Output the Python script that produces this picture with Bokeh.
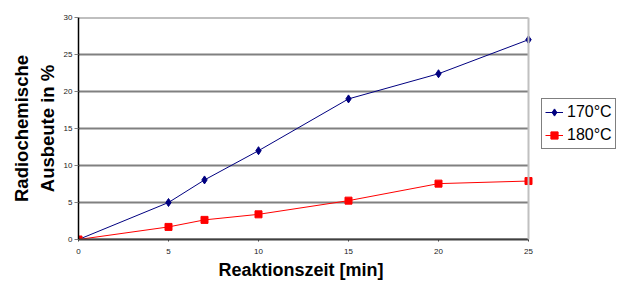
from bokeh.plotting import figure
from bokeh.models import Range1d, FixedTicker, Legend, LegendItem, Span, Title
from bokeh.embed import file_html
from bokeh.resources import INLINE

time_min = [0, 5, 7, 10, 15, 20, 25]
yield_170 = [0, 5.0, 8.05, 12.0, 19.0, 22.4, 27.0]
yield_180 = [0, 1.7, 2.65, 3.4, 5.25, 7.55, 7.9]
series_names = ["170°C", "180°C"]
series_colors = ["#000080", "#ff0000"]
series_markers = ["diamond", "square"]
marker_sizes = [8, 7]
x_ticks = [0, 5, 10, 15, 20, 25]
y_ticks = [0, 5, 10, 15, 20, 25, 30]
x_title = "Reaktionszeit [min]"
y_title = "Radiochemische\nAusbeute in %"

x_lo, x_hi = x_ticks[0], x_ticks[-1]
# frame extends to the right edge so the legend fits inside it; data/axis stay within 0..25
p = figure(width=619, height=283, output_backend="svg", toolbar_location=None,
           x_range=Range1d(x_lo, x_hi * 541 / 450), y_range=Range1d(y_ticks[0], y_ticks[-1]),
           min_border_left=78, min_border_top=17, min_border_right=0, min_border_bottom=44)
p.outline_line_color = None
p.background_fill_color = "white"
p.border_fill_color = "white"
p.grid.grid_line_color = None

# horizontal gridlines limited to the data area
p.segment(x0=[x_lo] * len(y_ticks), x1=[x_hi] * len(y_ticks), y0=y_ticks, y1=y_ticks,
          line_color="#808080", line_width=2, level="underlay")

p.xaxis.ticker = FixedTicker(ticks=x_ticks)
p.yaxis.ticker = FixedTicker(ticks=y_ticks)
p.xaxis.bounds = (x_lo, x_hi)

for ax in (p.xaxis, p.yaxis):
    ax.major_label_text_font = "Liberation Sans"
    ax.major_label_text_font_size = "8px"
    ax.major_label_text_color = "#222222"
    ax.minor_tick_line_color = None
    ax.major_tick_in = 0
    ax.axis_label_text_font = "Liberation Sans"
    ax.axis_label_text_font_style = "bold"
    ax.axis_label_text_color = "black"

p.xaxis.axis_line_color = "#404040"
p.xaxis.axis_line_width = 2
p.xaxis.major_tick_out = 2
p.xaxis.major_tick_line_color = "#404040"
p.xaxis.major_label_standoff = 7

p.yaxis.axis_label = y_title
p.yaxis.axis_label_text_font_size = "18.5px"
p.yaxis.axis_line_color = "black"
p.yaxis.axis_line_width = 1.5
p.yaxis.major_tick_out = 4
p.yaxis.major_tick_line_color = "#808080"
p.yaxis.major_label_standoff = 2
p.yaxis.axis_label_standoff = 3

# x-axis title centred under the data area (not under the legend area)
p.add_layout(Title(text=x_title, align="left", offset=140, standoff=3,
                   text_font="Liberation Sans", text_font_size="18px",
                   text_font_style="bold", text_color="black"), "below")

p.add_layout(Span(location=x_hi, dimension="height", line_color="#c0c0c0", line_width=2))

items = []
for name, ys, c, mk, ms in zip(series_names, [yield_170, yield_180], series_colors, series_markers, marker_sizes):
    lr = p.line(time_min, ys, line_color=c, line_width=1)
    sr = p.scatter(time_min, ys, marker=mk, size=ms, fill_color=c, line_color=c)
    items.append(LegendItem(label=name, renderers=[lr, sr]))

legend = Legend(items=items, location=(463, 90), margin=0, padding=3, spacing=3,
                label_text_font="Liberation Sans", label_text_font_size="16px",
                label_text_color="black",
                label_height=20, glyph_height=20, glyph_width=18, label_standoff=4,
                border_line_color="black", border_line_width=1,
                background_fill_color="white")
p.add_layout(legend, "center")

open("out.html", "w").write(file_html(p, INLINE))
